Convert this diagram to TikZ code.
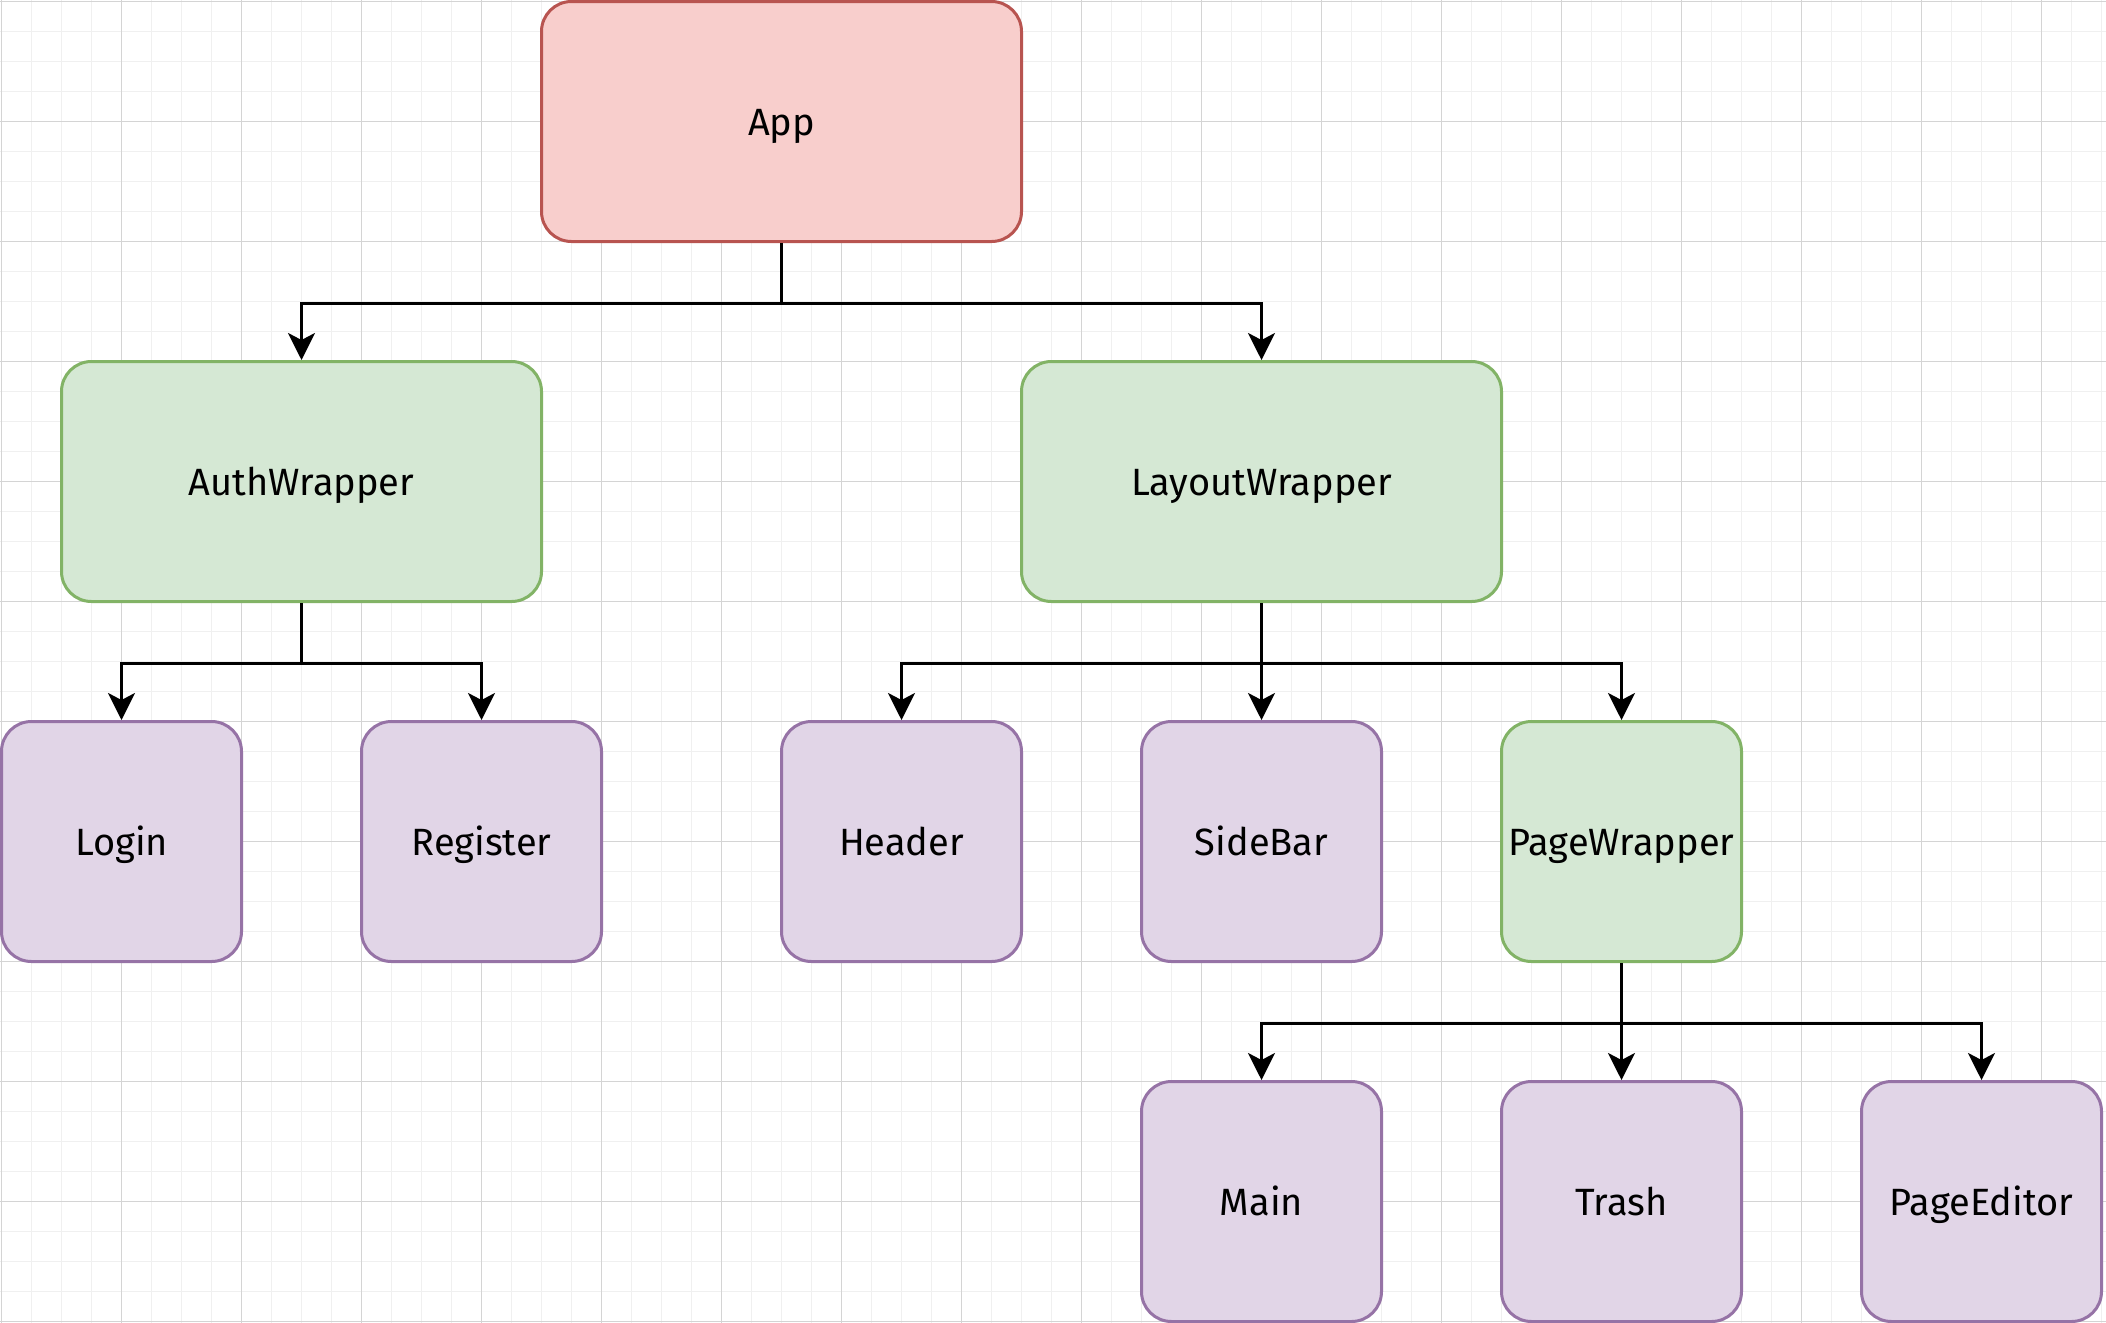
\documentclass[tikz,border=0pt]{standalone}
\usepackage{fontspec}
\setmainfont{Fira Sans}
\usetikzlibrary{arrows.meta}
\definecolor{redfill}{HTML}{F8CECC}
\definecolor{redline}{HTML}{B85450}
\definecolor{greenfill}{HTML}{D5E8D4}
\definecolor{greenline}{HTML}{82B366}
\definecolor{purpfill}{HTML}{E1D5E7}
\definecolor{purpline}{HTML}{9673A6}
\definecolor{gridminor}{HTML}{F0F0F0}
\definecolor{gridmajor}{HTML}{D4D4D4}
\tikzset{
  box/.style={rectangle, rounded corners=15pt, line width=1.5pt, inner sep=0pt,
    font=\fontsize{19}{23}\selectfont, text=black, text height=18.5pt, text depth=5pt},
  wide/.style={box, minimum width=240pt, minimum height=120pt},
  small/.style={box, minimum width=120pt, minimum height=120pt},
  redbox/.style={fill=redfill, draw=redline},
  greenbox/.style={fill=greenfill, draw=greenline},
  purpbox/.style={fill=purpfill, draw=purpline},
  arr/.style={line width=1.5pt, draw=black, -{Stealth[length=13.5pt, width=13.5pt, inset=3.5pt]}},
}
\begin{document}
\begin{tikzpicture}[x=0.5pt, y=-0.5pt]
\useasboundingbox (0,0) rectangle (2106,1323);
\fill[white] (0,0) rectangle (2106,1323);
% grid
\foreach \i in {0,...,70} {
  \draw[gridminor, line width=0.75pt] ({1.5+30*\i},0) -- ({1.5+30*\i},1323);
}
\foreach \j in {0,...,44} {
  \draw[gridminor, line width=0.75pt] (0,{1.5+30*\j}) -- (2106,{1.5+30*\j});
}
\foreach \i in {0,...,17} {
  \draw[gridmajor, line width=0.75pt] ({1.5+120*\i},0) -- ({1.5+120*\i},1323);
}
\foreach \j in {0,...,11} {
  \draw[gridmajor, line width=0.75pt] (0,{1.5+120*\j}) -- (2106,{1.5+120*\j});
}
% nodes
\node[wide, redbox] (app) at (781.5,121.5) {App};
\node[wide, greenbox] (auth) at (301.5,481.5) {AuthWrapper};
\node[wide, greenbox] (layout) at (1261.5,481.5) {LayoutWrapper};
\node[small, purpbox] (login) at (121.5,841.5) {Login};
\node[small, purpbox] (register) at (481.5,841.5) {Register};
\node[small, purpbox] (header) at (901.5,841.5) {Header};
\node[small, purpbox] (sidebar) at (1261.5,841.5) {SideBar};
\node[small, greenbox] (page) at (1621.5,841.5) {PageWrapper};
\node[small, purpbox] (main) at (1261.5,1201.5) {Main};
\node[small, purpbox] (trash) at (1621.5,1201.5) {Trash};
\node[small, purpbox] (editor) at (1981.5,1201.5) {PageEditor};
% connectors
\draw[arr] (app.south) -- ++(0,60) -| (auth.north);
\draw[arr] (app.south) -- ++(0,60) -| (layout.north);
\draw[arr] (auth.south) -- ++(0,60) -| (login.north);
\draw[arr] (auth.south) -- ++(0,60) -| (register.north);
\draw[arr] (layout.south) -- ++(0,60) -| (header.north);
\draw[arr] (layout.south) -- (sidebar.north);
\draw[arr] (layout.south) -- ++(0,60) -| (page.north);
\draw[arr] (page.south) -- ++(0,60) -| (main.north);
\draw[arr] (page.south) -- (trash.north);
\draw[arr] (page.south) -- ++(0,60) -| (editor.north);
\end{tikzpicture}
\end{document}
